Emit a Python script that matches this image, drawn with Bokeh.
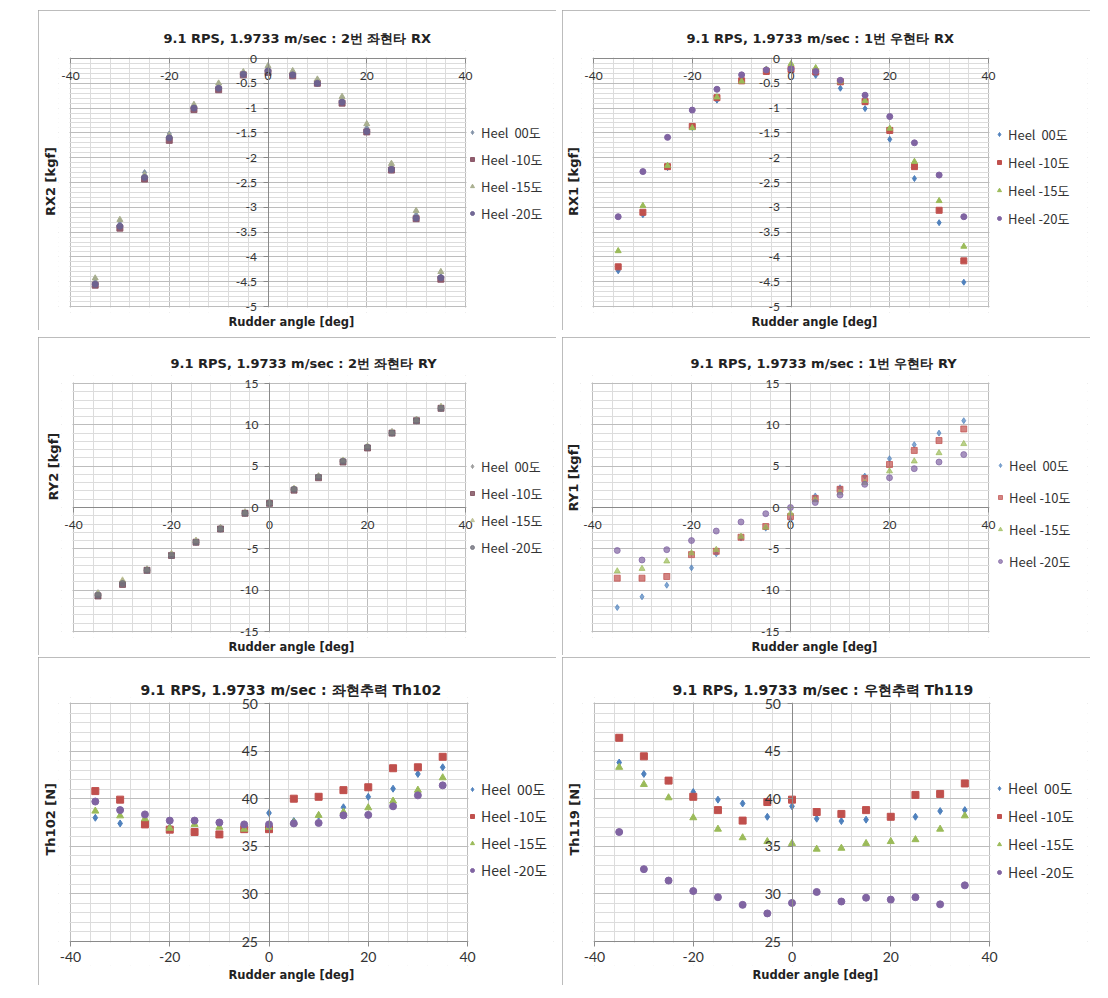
from bokeh.plotting import figure
from bokeh.models import (Range1d, SingleIntervalTicker, Legend, LegendItem, Title,
                          CustomJSTickFormatter, Spacer, BoxAnnotation)
from bokeh.layouts import row, column
from bokeh.embed import file_html
from bokeh.resources import INLINE

# ---------------- data ----------------
angles = [-35, -30, -25, -20, -15, -10, -5, 0, 5, 10, 15, 20, 25, 30, 35]
heel_labels = ["Heel  00도", "Heel -10도", "Heel -15도", "Heel -20도"]

rx2_h00 = [-4.45, -3.28, -2.30, -1.52, -0.95, -0.53, -0.30, -0.18, -0.28, -0.45, -0.80, -1.40, -2.18, -3.15, -4.40]
rx2_h10 = [-4.57, -3.42, -2.43, -1.65, -1.03, -0.63, -0.33, -0.28, -0.35, -0.50, -0.90, -1.48, -2.25, -3.23, -4.45]
rx2_h15 = [-4.43, -3.25, -2.35, -1.55, -0.93, -0.50, -0.27, -0.15, -0.25, -0.42, -0.77, -1.32, -2.12, -3.07, -4.30]
rx2_h20 = [-4.55, -3.38, -2.40, -1.60, -1.00, -0.60, -0.32, -0.25, -0.33, -0.50, -0.88, -1.47, -2.24, -3.22, -4.42]

rx1_h00 = [-4.28, -3.15, -2.20, -1.39, -0.84, -0.43, -0.27, -0.23, -0.34, -0.60, -1.01, -1.63, -2.42, -3.31, -4.51]
rx1_h10 = [-4.20, -3.10, -2.18, -1.37, -0.79, -0.45, -0.26, -0.22, -0.27, -0.47, -0.87, -1.45, -2.18, -3.06, -4.08]
rx1_h15 = [-3.88, -2.97, -2.16, -1.40, -0.78, -0.46, -0.22, -0.11, -0.19, -0.46, -0.85, -1.41, -2.08, -2.87, -3.79]
rx1_h20 = [-3.19, -2.28, -1.59, -1.04, -0.62, -0.33, -0.23, -0.21, -0.26, -0.44, -0.74, -1.17, -1.70, -2.35, -3.19]

ry2_h00 = [-10.3, -8.9, -7.4, -5.6, -4.0, -2.4, -0.5, 0.7, 2.2, 3.7, 5.6, 7.3, 9.2, 10.7, 12.2]
ry2_h10 = [-10.7, -9.3, -7.6, -5.8, -4.2, -2.6, -0.7, 0.5, 2.1, 3.6, 5.5, 7.2, 9.0, 10.5, 12.0]
ry2_h15 = [-10.4, -8.8, -7.5, -5.6, -4.0, -2.5, -0.6, 0.6, 2.3, 3.8, 5.7, 7.4, 9.1, 10.6, 12.2]
ry2_h20 = [-10.6, -9.2, -7.6, -5.8, -4.2, -2.6, -0.7, 0.5, 2.2, 3.7, 5.6, 7.3, 9.0, 10.5, 12.0]

ry1_h00 = [-12.1, -10.8, -9.4, -7.3, -5.6, -3.7, -2.5, -1.5, 1.4, 2.4, 3.8, 5.9, 7.6, 9.0, 10.5]
ry1_h10 = [-8.55, -8.55, -8.35, -5.7, -5.3, -3.6, -2.3, -1.1, 1.1, 2.2, 3.5, 5.2, 6.9, 8.1, 9.5]
ry1_h15 = [-7.7, -7.4, -6.5, -5.5, -5.1, -3.5, -2.4, -0.7, 0.9, 1.8, 3.0, 4.4, 5.6, 6.6, 7.7]
ry1_h20 = [-5.2, -6.35, -5.1, -4.0, -2.85, -1.75, -0.75, 0.0, 0.6, 1.5, 2.8, 3.6, 4.7, 5.5, 6.4]

th102_h00 = [38.0, 37.4, 37.5, 37.0, 37.5, 37.3, 37.2, 38.5, 37.65, 38.2, 39.1, 40.2, 41.05, 42.6, 43.3]
th102_h10 = [40.8, 39.9, 37.3, 36.75, 36.5, 36.25, 36.8, 36.8, 40.0, 40.2, 40.9, 41.2, 43.2, 43.3, 44.4]
th102_h15 = [38.7, 38.2, 37.9, 36.9, 37.3, 37.0, 36.8, 37.0, 37.5, 38.25, 38.6, 39.05, 39.75, 40.9, 42.2]
th102_h20 = [39.7, 38.8, 38.35, 37.7, 37.7, 37.5, 37.3, 37.3, 37.4, 37.45, 38.25, 38.3, 39.2, 40.35, 41.4]

th119_h00 = [43.8, 42.6, 41.9, 40.7, 39.9, 39.5, 38.1, 39.2, 37.9, 37.65, 37.8, 38.1, 38.1, 38.7, 38.8]
th119_h10 = [46.4, 44.45, 41.9, 40.2, 38.8, 37.7, 39.65, 39.9, 38.6, 38.4, 38.8, 38.1, 40.4, 40.5, 41.6]
th119_h15 = [43.3, 41.5, 40.1, 38.0, 36.8, 35.9, 35.5, 35.3, 34.7, 34.8, 35.3, 35.5, 35.7, 36.8, 38.2]
th119_h20 = [36.5, 32.6, 31.4, 30.3, 29.65, 28.85, 27.95, 29.05, 30.2, 29.2, 29.6, 29.4, 29.65, 28.9, 30.9]

# ---------------- style ----------------
CJK = "Noto Sans CJK KR"
LAT = "Lato"
TFONT = "DejaVu Sans"
MARKERS = ["diamond", "square", "triangle", "circle"]
EXCEL = ["#4F81BD", "#C0504D", "#9BBB59", "#8064A2"]
WASHED1 = ["#7d8da3", "#8a5466", "#a6ad8c", "#6c6290"]
WASHED3 = ["#8c8c8c", "#7a4a58", "#b9bc8c", "#6f6f7a"]

fmt = CustomJSTickFormatter(code="return String(Math.round(tick*100)/100);")


def make_panel(c, series, colors, alpha):
    fx, fy, fwid, fhei = c["fig"]
    dl, dt, dr, db = c["data"]
    padl, padt, padb = c["pad"]
    x0, x1 = -40, 40
    y0, y1 = c["ylim"]
    L, T, R, B = dl - padl, dt - padt, fx + fwid - 3, db + padb
    sx = (x1 - x0) / (dr - dl)
    sy = (y1 - y0) / (db - dt)
    p = figure(width=fwid, height=fhei, output_backend="svg", toolbar_location=None,
               x_range=Range1d(x0 - (dl - L) * sx, x1 + (R - dr) * sx),
               y_range=Range1d(y0 - (B - db) * sy, y1 + (dt - T) * sy),
               min_border_left=L - fx, min_border_top=T - fy,
               min_border_right=fx + fwid - R, min_border_bottom=fy + fhei - B,
               background_fill_color="white", border_fill_color="white",
               styles={"outline": "1px solid #a6a6a6", "outline-offset": "-1px"})
    p.outline_line_color = None

    p.xaxis.ticker = SingleIntervalTicker(interval=20, num_minor_ticks=5)
    p.yaxis.ticker = SingleIntervalTicker(interval=c["yint"], num_minor_ticks=5)
    p.yaxis.fixed_location = 0
    p.xaxis.fixed_location = c["xaxis_at"]
    p.xaxis.bounds = (x0, x1)
    p.yaxis.bounds = (y0, y1)
    for ax in (p.xaxis[0], p.yaxis[0]):
        ax.formatter = fmt
        ax.axis_line_color = "#8a8a8a"
        ax.major_tick_line_color = "#8a8a8a"
        ax.major_tick_out = 5
        ax.major_tick_in = 0
        ax.minor_tick_line_color = None
        ax.major_label_text_font = LAT
        ax.major_label_text_font_size = c["tick"]
        ax.major_label_text_color = "#333333"
    p.xaxis.major_label_standoff = c["xstand"]
    p.yaxis.major_label_standoff = 6

    for g in (p.xgrid[0], p.ygrid[0]):
        g.grid_line_color = "#bdbdbd"
        g.minor_grid_line_color = "#dcdcdc"

    # white masks so the grid ends exactly at the plot-area edges
    ex, ey = 1.0 * sx, 1.0 * sy
    for kw in ({"right": x0 - ex}, {"left": x1 + ex}, {"bottom": y1 + ey}, {"top": y0 - ey}):
        p.add_layout(BoxAnnotation(fill_color="white", fill_alpha=1.0, line_color=None,
                                   level="underlay", **kw))

    p.title.text = c["title"]
    p.title.align = "left"
    p.title.offset = c["title_x"] - L
    p.title.text_font = TFONT
    p.title.text_font_size = c["title_size"]
    p.title.text_font_style = "bold"
    p.title.text_color = "#222222"
    p.title.standoff = c["title_standoff"]

    yl_align, yl_off = c["ylab_pos"]
    p.add_layout(Title(text=c["ylabel"], align=yl_align, offset=yl_off, text_font=TFONT,
                       text_font_size="13px", text_font_style="bold",
                       text_color="#222222", standoff=c["ylab_standoff"]), "left")
    p.add_layout(Title(text="Rudder  angle [deg]", align="left", offset=c["xlab_x"] - L,
                       text_font=TFONT, text_font_size="11.5px", text_font_style="bold",
                       text_color="#222222", standoff=0), "below")

    items = []
    for ys, lab, mk, col in zip(series, heel_labels, MARKERS, colors):
        r = p.scatter(angles, ys, marker=mk, size=c["msize"], fill_color=col,
                      line_color=col, fill_alpha=alpha, line_alpha=alpha)
        items.append(LegendItem(label=lab, renderers=[r]))
    gx, gbottom = c["legend"]
    leg = Legend(items=items, location=(gx - 5 - L, B - gbottom),
                 border_line_color=None, background_fill_alpha=0,
                 label_text_font=CJK, label_text_font_size=c["leg_size"],
                 label_text_color="#333333", glyph_width=10, glyph_height=20,
                 label_height=20, spacing=c["leg_spacing"], padding=0, margin=0,
                 label_standoff=4)
    p.add_layout(leg)
    return p


c1 = dict(fig=(38, 10, 518, 320), data=(70, 58, 465, 306), pad=(12, 8, 6), ylim=(-5, 0), yint=0.5,
          xaxis_at=0, tick="12px", xstand=8, title="9.1 RPS, 1.9733 m/sec :  2번 좌현타 RX",
          title_x=163, title_size="13px", title_standoff=9, ylabel="RX2 [kgf]",
          ylab_pos=("center", 0), ylab_standoff=1, xlab_x=228, msize=6,
          legend=(472, 223), leg_size="13px", leg_spacing=7)
c2 = dict(fig=(562, 10, 528, 320), data=(593, 58, 988, 306), pad=(12, 8, 6), ylim=(-5, 0), yint=0.5,
          xaxis_at=0, tick="12px", xstand=8, title="9.1 RPS, 1.9733 m/sec :  1번 우현타 RX",
          title_x=686, title_size="13px", title_standoff=9, ylabel="RX1 [kgf]",
          ylab_pos=("center", 0), ylab_standoff=1, xlab_x=751, msize=6,
          legend=(999, 228), leg_size="13px", leg_spacing=8)
c3 = dict(fig=(38, 337, 518, 318), data=(73, 383, 465, 631), pad=(12, 8, 6), ylim=(-15, 15), yint=5,
          xaxis_at=0, tick="12px", xstand=8, title="9.1 RPS, 1.9733 m/sec :  2번 좌현타 RY",
          title_x=170, title_size="13px", title_standoff=9, ylabel="RY2 [kgf]",
          ylab_pos=("left", 137), ylab_standoff=2, xlab_x=228, msize=6,
          legend=(472, 557), leg_size="13px", leg_spacing=7)
c4 = dict(fig=(562, 337, 528, 318), data=(592, 383, 988, 631), pad=(12, 8, 6), ylim=(-15, 15), yint=5,
          xaxis_at=0, tick="12px", xstand=8, title="9.1 RPS, 1.9733 m/sec :  1번 우현타 RY",
          title_x=690, title_size="13px", title_standoff=9, ylabel="RY1 [kgf]",
          ylab_pos=("left", 126), ylab_standoff=0, xlab_x=751, msize=6,
          legend=(1000, 571), leg_size="13px", leg_spacing=12)
c5 = dict(fig=(38, 657, 518, 328), data=(70, 703, 467, 941), pad=(12, 6, 24), ylim=(25, 50), yint=5,
          xaxis_at=25, tick="14px", xstand=5, title="9.1 RPS, 1.9733 m/sec :  좌현추력  Th102",
          title_x=140, title_size="14px", title_standoff=0, ylabel="Th102 [N]",
          ylab_pos=("left", 110), ylab_standoff=1, xlab_x=228, msize=7,
          legend=(472, 880), leg_size="14px", leg_spacing=7)
c6 = dict(fig=(562, 657, 528, 328), data=(594, 703, 989, 941), pad=(12, 6, 24), ylim=(25, 50), yint=5,
          xaxis_at=25, tick="14px", xstand=5, title="9.1 RPS, 1.9733 m/sec :  우현추력  Th119",
          title_x=672, title_size="14px", title_standoff=0, ylabel="Th119 [N]",
          ylab_pos=("left", 110), ylab_standoff=1, xlab_x=752, msize=7,
          legend=(999, 882), leg_size="14px", leg_spacing=8)

p1 = make_panel(c1, [rx2_h00, rx2_h10, rx2_h15, rx2_h20], WASHED1, 0.95)
p2 = make_panel(c2, [rx1_h00, rx1_h10, rx1_h15, rx1_h20], EXCEL, 1.0)
p3 = make_panel(c3, [ry2_h00, ry2_h10, ry2_h15, ry2_h20], WASHED3, 0.8)
p4 = make_panel(c4, [ry1_h00, ry1_h10, ry1_h15, ry1_h20], EXCEL, 0.7)
p5 = make_panel(c5, [th102_h00, th102_h10, th102_h15, th102_h20], EXCEL, 1.0)
p6 = make_panel(c6, [th119_h00, th119_h10, th119_h15, th119_h20], EXCEL, 1.0)

layout = column(
    Spacer(height=10),
    row(Spacer(width=38), p1, Spacer(width=6), p2),
    Spacer(height=7),
    row(Spacer(width=38), p3, Spacer(width=6), p4),
    Spacer(height=2),
    row(Spacer(width=38), p5, Spacer(width=6), p6),
)

open("out.html", "w").write(file_html(layout, INLINE))
